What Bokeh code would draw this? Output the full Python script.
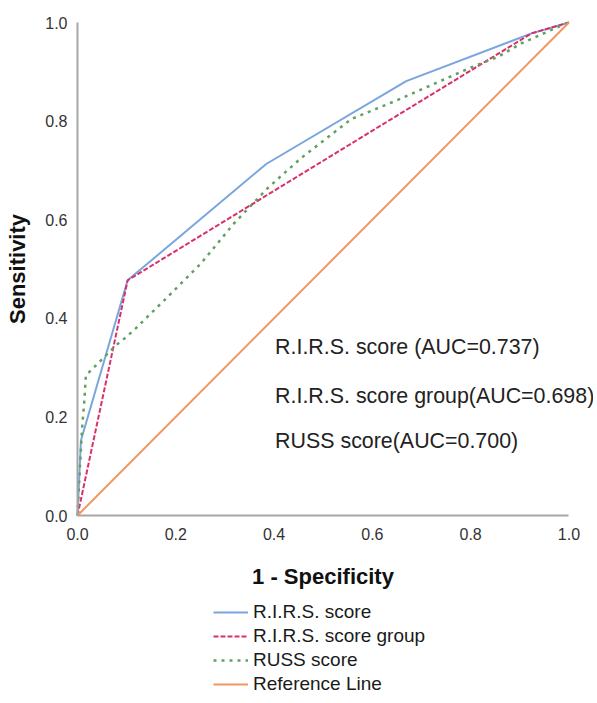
from bokeh.plotting import figure
from bokeh.models import Range1d, Legend, LegendItem, FixedTicker, ColumnDataSource
from bokeh.core.properties import value
from bokeh.embed import file_html
from bokeh.resources import INLINE

# ---- data ----
rirs_fpr = [0.0, 0.007, 0.102, 0.384, 0.669, 0.924, 1.0]
rirs_tpr = [0.0, 0.152, 0.477, 0.713, 0.881, 0.978, 1.0]

group_fpr = [0.0, 0.102, 0.924, 1.0]
group_tpr = [0.0, 0.477, 0.978, 1.0]

russ_fpr = [0.0, 0.005, 0.010, 0.014, 0.017, 0.037, 0.058, 0.078, 0.098, 0.118,
            0.176, 0.251, 0.318, 0.388, 0.455, 0.557, 0.659, 0.806, 0.857, 0.904, 0.971, 1.0]
russ_tpr = [0.0, 0.100, 0.187, 0.233, 0.284, 0.304, 0.325, 0.345, 0.361, 0.379,
            0.436, 0.511, 0.592, 0.665, 0.725, 0.804, 0.846, 0.911, 0.931, 0.958, 0.988, 1.0]

ref_fpr = [0.0, 1.0]
ref_tpr = [0.0, 1.0]

series_names = ["R.I.R.S. score", "R.I.R.S. score group", "RUSS score", "Reference Line"]
auc_texts = ["R.I.R.S. score (AUC=0.737)", "R.I.R.S. score group(AUC=0.698)", "RUSS score(AUC=0.700)"]
tick_values = [0.0, 0.2, 0.4, 0.6, 0.8, 1.0]
tick_labels = ["0.0", "0.2", "0.4", "0.6", "0.8", "1.0"]

FONT = "Liberation Sans"

PX_X = 491.4   # pixels per unit along x
PX_Y = 493.0   # pixels per unit along y
X_START = -77 / PX_X      # room at left for the y axis labels and title
Y_START = -185 / PX_Y     # room below for the x axis title and legend
Y_END = 1 + 14 / PX_Y     # room above for the top tick label

p = figure(frame_width=593, frame_height=692, output_backend="svg", toolbar_location=None,
           x_range=Range1d(X_START, 1.05), y_range=Range1d(Y_START, Y_END),
           min_border_left=0, min_border_right=0, min_border_top=8, min_border_bottom=0)
p.outline_line_color = None
p.grid.visible = False
p.background_fill_color = "white"
p.border_fill_color = "white"

for ax in (p.xaxis[0], p.yaxis[0]):
    ax.ticker = FixedTicker(ticks=tick_values)
    ax.major_label_overrides = {v: l for v, l in zip(tick_values, tick_labels)}
    ax.major_tick_line_color = None
    ax.minor_tick_line_color = None
    ax.axis_line_color = "#a6a6a6"
    ax.axis_line_width = 2
    ax.bounds = (0, 1)
    ax.fixed_location = 0
    ax.major_label_text_font = FONT
    ax.major_label_text_font_size = "16px"
    ax.major_label_text_color = "#333333"
    ax.axis_label_text_font = FONT
    ax.axis_label_text_font_style = "bold"
    ax.axis_label_text_font_size = "22px"
    ax.axis_label_text_color = "#111111"

p.xaxis.axis_label = "1 - Specificity"
p.yaxis.axis_label = "Sensitivity"
p.xaxis.major_label_standoff = 6
p.yaxis.major_label_standoff = 4
p.xaxis.axis_label_standoff = 21
p.yaxis.axis_label_standoff = 12

r_blue = p.line(rirs_fpr, rirs_tpr, line_color="#79a6de", line_width=2)
r_red = p.line(group_fpr, group_tpr, line_color="#d9306a", line_width=2, line_dash="5 2")
r_green = p.line(russ_fpr, russ_tpr, line_color="#62a062", line_width=2.5, line_dash="3 5")
r_orange = p.line(ref_fpr, ref_tpr, line_color="#f29660", line_width=2)

# AUC annotations
ann_y = [0.341, 0.243, 0.152]
src = ColumnDataSource(dict(x=[0.402] * 3, y=ann_y, t=auc_texts))
p.text(x="x", y="y", text="t", source=src, text_font=value(FONT), text_font_size="21.4px",
       text_color="#222222", text_baseline="middle", text_align="left")

legend = Legend(items=[LegendItem(label=n, renderers=[r]) for n, r in
                       zip(series_names, [r_blue, r_red, r_green, r_orange])],
                location=(213, 5), orientation="vertical")
legend.border_line_alpha = 0
legend.background_fill_alpha = 0
legend.padding = 0
legend.margin = 0
legend.spacing = 2
legend.glyph_width = 35
legend.glyph_height = 20
legend.label_height = 20
legend.label_standoff = 5
legend.label_text_font = FONT
legend.label_text_font_size = "19px"
legend.label_text_color = "#1a1a1a"
p.add_layout(legend, "center")

open("out.html", "w").write(file_html(p, INLINE))
